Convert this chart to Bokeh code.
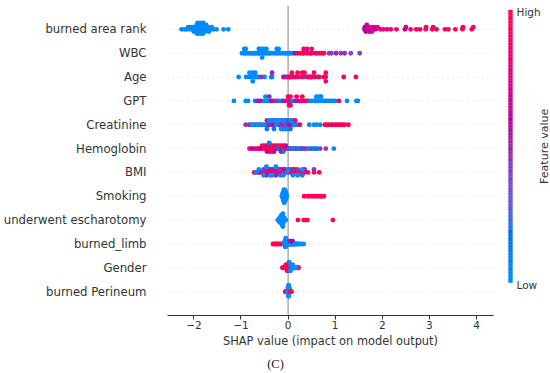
import numpy as np
from bokeh.plotting import figure
from bokeh.models import Range1d, FixedTicker, Span, ColumnDataSource
from bokeh.layouts import column, row
from bokeh.embed import file_html
from bokeh.resources import INLINE
from bokeh.core.properties import value

# ---------------- data ----------------
features = ["burned area rank", "WBC", "Age", "GPT", "Creatinine", "Hemoglobin",
            "BMI", "Smoking", "underwent escharotomy", "burned_limb", "Gender",
            "burned Perineum"]  # top to bottom
x_ticks = [-2, -1, 0, 1, 2, 3, 4]
x_tick_labels = ["\u22122", "\u22121", "0", "1", "2", "3", "4"]
colorbar_labels = ["Low", "High"]
x_title = "SHAP value (impact on model output)"
cbar_title = "Feature value"
caption = "(C)"

# (SHAP value, normalised feature value: 0 = low, 1 = high)
burned_area_rank = [
    (-2.26, 0), (-2.2, 0), (-2.15, 0), (-2.12, 0.05), (-2.08, 0), (-2.06, 0), (-2.03, 0),
    (-2.01, 0.05), (-2.0, 0), (-1.98, 0), (-1.97, 0), (-1.96, 0.05), (-1.94, 0), (-1.93, 0),
    (-1.92, 0), (-1.91, 0), (-1.9, 0.05), (-1.89, 0), (-1.88, 0), (-1.87, 0), (-1.86, 0),
    (-1.85, 0.05), (-1.84, 0), (-1.83, 0), (-1.82, 0), (-1.81, 0), (-1.8, 0.05), (-1.79, 0),
    (-1.77, 0), (-1.76, 0), (-1.74, 0), (-1.72, 0.05), (-1.7, 0), (-1.68, 0), (-1.65, 0),
    (-1.62, 0), (-1.58, 0), (-1.52, 0), (-1.37, 0), (-1.27, 0),
    (1.62, 0.55), (1.63, 0.6), (1.65, 0.6), (1.67, 0.65), (1.68, 0.7), (1.71, 0.7),
    (1.72, 0.6), (1.74, 0.6), (1.77, 0.75), (1.78, 0.65), (1.8, 0.8), (1.84, 0.7),
    (1.86, 0.6), (1.9, 0.85), (1.96, 0.8), (2.02, 0.9), (2.1, 0.75), (2.18, 0.9),
    (2.3, 0.95), (2.48, 0.6), (2.5, 0.65), (2.6, 0.9), (2.72, 0.95), (2.8, 0.9), (2.92, 1.0),
    (2.93, 0.95), (3.06, 0.95), (3.08, 1.0), (3.15, 0.95), (3.33, 1.0), (3.4, 0.95),
    (3.55, 1.0), (3.7, 1.0), (3.71, 0.95), (3.9, 1.0), (3.93, 0.95)]
wbc = [
    (-0.98, 0), (-0.93, 0), (-0.93, 0), (-0.9, 0), (-0.9, 0), (-0.86, 0), (-0.82, 0),
    (-0.79, 0), (-0.75, 0), (-0.72, 0), (-0.7, 0), (-0.66, 0), (-0.62, 0), (-0.62, 0),
    (-0.6, 0), (-0.6, 0), (-0.55, 0), (-0.55, 0), (-0.55, 0), (-0.5, 0), (-0.5, 0),
    (-0.46, 0), (-0.46, 0), (-0.41, 0), (-0.38, 0), (-0.33, 0), (-0.28, 0), (-0.24, 0),
    (-0.24, 0), (-0.2, 0), (-0.2, 0), (-0.15, 0), (-0.1, 0), (-0.06, 0), (-0.02, 0),
    (0.02, 0), (0.05, 0), (0.1, 0), (0.3, 0.05), (0.48, 0.1),
    (0.15, 0.6), (0.2, 0.9), (0.26, 1.0), (0.33, 0.95), (0.33, 0.9), (0.4, 1.0),
    (0.4, 0.7), (0.45, 0.95), (0.5, 1.0), (0.5, 0.9), (0.58, 0.6), (0.62, 0.95),
    (0.67, 0.9), (0.72, 1.0), (0.76, 0.9), (0.87, 0.45), (0.92, 0.4), (1.02, 0.5),
    (1.12, 0.4), (1.2, 0.45), (1.33, 0.4), (1.52, 0.4)]
age = [
    (-1.05, 0), (-0.89, 0), (-0.82, 0), (-0.82, 0), (-0.78, 0.05), (-0.75, 0), (-0.75, 0),
    (-0.75, 0), (-0.7, 0), (-0.7, 0.05), (-0.65, 0), (-0.63, 0), (-0.5, 0), (-0.36, 0),
    (-0.34, 0.05), (-0.08, 0), (-0.05, 0), (-0.02, 0), (0.03, 0.05), (0.06, 0), (0.1, 0),
    (0.25, 0), (0.35, 0.05), (0.45, 0),
    (-0.57, 0.45), (-0.34, 0.5), (-0.1, 0.55), (0.12, 0.5), (0.4, 0.5), (0.48, 0.45),
    (0.62, 0.5), (0.8, 0.45),
    (0.0, 0.9), (0.04, 1.0), (0.08, 0.95), (0.15, 1.0), (0.2, 0.9), (0.2, 1.0), (0.3, 0.95),
    (0.3, 1.0), (0.35, 0.9), (0.43, 1.0), (0.5, 0.95), (0.55, 1.0), (0.55, 0.9), (0.66, 1.0),
    (0.76, 0.95), (0.8, 1.0), (0.8, 0.9), (1.18, 1.0), (1.44, 1.0)]
gpt = [
    (-1.15, 0), (-0.9, 0), (-0.85, 0), (-0.7, 0), (-0.55, 0), (-0.5, 0), (-0.48, 0),
    (-0.45, 0), (-0.42, 0), (-0.38, 0), (-0.2, 0), (-0.15, 0), (0.05, 0), (0.1, 0),
    (0.42, 0), (0.45, 0), (0.5, 0), (0.55, 0), (0.58, 0), (0.6, 0), (0.6, 0), (0.63, 0),
    (0.66, 0), (0.66, 0), (0.7, 0), (0.7, 0), (0.73, 0), (0.76, 0), (0.8, 0), (0.85, 0),
    (0.9, 0), (0.95, 0), (1.0, 0), (1.25, 0), (1.45, 0), (1.48, 0),
    (-0.65, 0.5), (-0.6, 0.55), (-0.4, 0.5), (-0.35, 0.6), (-0.3, 0.5), (-0.25, 0.45),
    (-0.1, 0.55), (-0.05, 0.5), (0.0, 0.6), (0.15, 0.55), (0.2, 0.5), (0.25, 0.6),
    (0.3, 0.5), (0.35, 0.45),
    (-0.02, 0.9), (0.0, 1.0), (0.02, 0.95), (0.05, 0.9), (0.05, 1.0), (0.18, 0.95),
    (0.28, 0.9), (0.3, 1.0), (0.38, 0.95), (1.08, 1.0)]
creatinine = [
    (-0.9, 0.45), (-0.82, 0.5), (-0.7, 0.5), (-0.62, 0.55), (-0.55, 0.5), (-0.45, 0.55),
    (-0.45, 0.5), (-0.4, 0.55), (-0.35, 0.5), (-0.3, 0.6), (-0.3, 0.5), (-0.2, 0.55),
    (-0.15, 0.45), (-0.15, 0.5), (-0.1, 0.5), (-0.05, 0.4), (-0.05, 0.55), (0.0, 0.5),
    (0.05, 0.6), (0.1, 0.5), (0.92, 0.45),
    (-0.78, 0), (-0.75, 0), (-0.65, 0), (-0.6, 0), (-0.5, 0), (-0.45, 0.1), (-0.4, 0),
    (-0.35, 0), (-0.3, 0.1), (-0.25, 0), (-0.25, 0), (-0.2, 0), (-0.15, 0), (-0.1, 0),
    (-0.1, 0), (-0.05, 0), (0.0, 0.1), (0.0, 0), (0.05, 0), (0.05, 0.2), (0.1, 0),
    (0.12, 0), (0.15, 0), (0.2, 0), (0.45, 0), (0.55, 0), (0.6, 0), (0.68, 0),
    (0.15, 0.85), (0.25, 0.9), (0.78, 1.0), (0.82, 0.95), (0.87, 1.0), (0.95, 0.9),
    (1.0, 1.0), (1.05, 0.95), (1.1, 1.0), (1.15, 0.9), (1.2, 1.0), (1.28, 0.95)]
hemoglobin = [
    (-0.82, 1.0), (-0.78, 0.9), (-0.7, 1.0), (-0.66, 0.95), (-0.62, 1.0), (-0.58, 0.9),
    (-0.55, 1.0), (-0.55, 0.95), (-0.5, 1.0), (-0.5, 0.9), (-0.45, 1.0), (-0.45, 0.95),
    (-0.4, 1.0), (-0.4, 0.9), (-0.4, 1.0), (-0.35, 0.95), (-0.35, 1.0), (-0.35, 0.9),
    (-0.3, 1.0), (-0.3, 0.95), (-0.25, 1.0), (-0.25, 0.9), (-0.2, 1.0), (-0.2, 0.95),
    (-0.15, 1.0), (-0.15, 0.9), (-0.1, 1.0), (-0.1, 0.95), (-0.05, 1.0), (-0.04, 0.9),
    (0.0, 1.0), (0.05, 0.95), (0.12, 1.0), (0.15, 0.9), (0.25, 1.0), (0.35, 0.95),
    (-0.75, 0.6), (-0.6, 0.6), (-0.45, 0.65), (-0.3, 0.6), (-0.15, 0.55), (-0.05, 0.6),
    (0.08, 0.5), (0.18, 0.55), (0.28, 0.5), (0.4, 0.45), (0.5, 0.5), (0.58, 0.5),
    (0.68, 0.45), (0.8, 0.45),
    (-0.4, 0.1), (-0.22, 0.15), (-0.1, 0.1), (0.02, 0.1), (0.1, 0.05), (0.2, 0.1),
    (0.3, 0.15), (0.45, 0.1), (0.55, 0.1), (0.62, 0.1), (0.97, 0.05)]
bmi = [
    (-0.72, 1.0), (-0.65, 0.95), (-0.58, 1.0), (-0.52, 0.9), (-0.46, 1.0), (-0.46, 0.9),
    (-0.42, 1.0), (-0.38, 0.95), (-0.38, 0.8), (-0.34, 1.0), (-0.3, 0.9), (-0.26, 0.9),
    (-0.26, 1.0), (-0.2, 0.95), (-0.16, 0.85), (-0.16, 1.0), (-0.1, 0.9), (-0.06, 0.9),
    (-0.06, 1.0), (0.0, 0.95), (0.04, 0.85), (0.04, 1.0), (0.1, 0.9), (0.14, 0.9),
    (0.14, 1.0), (0.2, 0.95), (0.25, 1.0), (0.3, 0.9), (0.35, 1.0), (0.42, 0.95),
    (0.55, 1.0), (0.66, 1.0),
    (-0.62, 0.5), (-0.52, 0.45), (-0.46, 0.55), (-0.42, 0.5), (-0.34, 0.55), (-0.3, 0.5),
    (-0.26, 0.5), (-0.2, 0.45), (-0.1, 0.55), (0.1, 0.5), (0.2, 0.45), (0.35, 0.5),
    (0.55, 0.45),
    (-0.68, 0), (-0.62, 0), (-0.52, 0), (-0.46, 0), (-0.38, 0), (-0.34, 0), (-0.26, 0),
    (-0.16, 0.1), (-0.1, 0), (-0.02, 0), (0.0, 0), (0.1, 0), (0.2, 0), (0.3, 0),
    (0.3, 0.1)]
smoking = [
    (-0.13, 0), (-0.12, 0), (-0.12, 0), (-0.11, 0), (-0.11, 0), (-0.11, 0), (-0.1, 0),
    (-0.1, 0), (-0.1, 0), (-0.1, 0), (-0.1, 0), (-0.09, 0), (-0.09, 0), (-0.09, 0),
    (-0.09, 0), (-0.09, 0), (-0.09, 0), (-0.08, 0), (-0.08, 0), (-0.08, 0), (-0.08, 0),
    (-0.08, 0), (-0.08, 0), (-0.08, 0), (-0.07, 0), (-0.07, 0), (-0.07, 0), (-0.07, 0),
    (-0.07, 0), (-0.07, 0), (-0.06, 0), (-0.06, 0), (-0.06, 0), (-0.06, 0), (-0.06, 0),
    (-0.05, 0), (-0.05, 0), (-0.05, 0), (-0.05, 0), (-0.04, 0), (-0.04, 0), (-0.04, 0),
    (-0.03, 0),
    (0.34, 1.0), (0.42, 0.95), (0.48, 1.0), (0.53, 1.0), (0.58, 0.95), (0.64, 1.0),
    (0.69, 1.0), (0.71, 0.95), (0.76, 1.0)]
escharotomy = [
    (-0.22, 0), (-0.2, 0), (-0.19, 0), (-0.18, 0), (-0.18, 0), (-0.17, 0), (-0.17, 0),
    (-0.16, 0), (-0.16, 0), (-0.16, 0), (-0.15, 0), (-0.15, 0), (-0.15, 0), (-0.15, 0),
    (-0.14, 0), (-0.14, 0), (-0.14, 0), (-0.14, 0), (-0.13, 0), (-0.13, 0), (-0.13, 0),
    (-0.13, 0), (-0.13, 0), (-0.12, 0), (-0.12, 0), (-0.12, 0), (-0.12, 0), (-0.11, 0),
    (-0.11, 0), (-0.11, 0), (-0.1, 0), (-0.1, 0), (-0.1, 0), (-0.09, 0), (-0.09, 0),
    (-0.08, 0), (-0.08, 0), (-0.07, 0), (-0.06, 0), (-0.05, 0),
    (0.21, 1.0), (0.33, 1.0), (0.36, 1.0), (0.41, 1.0), (0.95, 1.0)]
burned_limb = [
    (-0.32, 1.0), (-0.29, 1.0), (-0.27, 1.0), (-0.24, 1.0), (-0.22, 1.0), (-0.19, 1.0),
    (-0.16, 1.0), (-0.13, 1.0), (-0.1, 1.0), (-0.02, 1.0), (0.02, 1.0), (0.06, 1.0),
    (0.1, 1.0), (0.13, 1.0),
    (-0.09, 0), (-0.07, 0), (-0.07, 0), (-0.06, 0), (-0.06, 0), (-0.06, 0), (-0.05, 0),
    (-0.05, 0), (-0.05, 0), (-0.05, 0), (-0.04, 0), (-0.04, 0), (-0.03, 0), (-0.01, 0),
    (0.0, 0), (0.01, 0), (0.02, 0), (0.03, 0), (0.04, 0), (0.05, 0), (0.06, 0), (0.07, 0),
    (0.08, 0), (0.09, 0), (0.1, 0), (0.11, 0), (0.12, 0), (0.14, 0), (0.15, 0), (0.17, 0),
    (0.19, 0), (0.21, 0), (0.24, 0), (0.27, 0), (0.33, 0),
    (0.04, 0.5), (0.08, 0.6)]
gender = [
    (-0.12, 1.0), (-0.1, 1.0), (-0.08, 1.0), (-0.07, 1.0), (-0.06, 1.0), (-0.05, 1.0),
    (-0.05, 1.0), (-0.04, 1.0), (-0.04, 1.0), (-0.03, 1.0), (-0.03, 1.0), (-0.02, 1.0),
    (-0.02, 1.0), (-0.02, 1.0), (-0.01, 1.0), (-0.01, 1.0), (-0.01, 1.0), (0.0, 1.0),
    (0.0, 1.0), (0.0, 1.0), (0.01, 1.0), (0.01, 1.0), (0.01, 1.0), (0.02, 1.0), (0.02, 1.0),
    (0.02, 1.0), (0.03, 1.0), (0.03, 1.0), (0.04, 1.0), (0.04, 1.0), (0.05, 1.0),
    (0.05, 1.0), (0.06, 1.0), (0.07, 1.0), (0.08, 1.0), (0.1, 1.0), (0.13, 1.0),
    (0.16, 1.0), (0.2, 1.0), (0.22, 1.0),
    (0.02, 0), (0.04, 0), (0.05, 0), (0.06, 0), (0.07, 0), (0.08, 0), (0.09, 0), (0.1, 0),
    (0.11, 0), (0.12, 0), (0.14, 0), (0.15, 0), (0.17, 0)]
burned_perineum = [
    (-0.06, 1.0), (-0.05, 1.0), (-0.04, 1.0), (-0.03, 1.0),
    (-0.01, 0), (-0.005, 0), (-0.005, 0), (0.0, 0), (0.0, 0), (0.0, 0), (0.0, 0),
    (0.005, 0), (0.005, 0), (0.005, 0), (0.005, 0), (0.005, 0), (0.01, 0), (0.01, 0),
    (0.01, 0), (0.01, 0), (0.01, 0), (0.01, 0), (0.015, 0), (0.015, 0), (0.015, 0),
    (0.015, 0), (0.015, 0), (0.02, 0), (0.02, 0), (0.02, 0), (0.02, 0), (0.025, 0),
    (0.025, 0), (0.03, 0), (0.03, 0), (0.035, 0),
    (0.04, 1.0), (0.05, 1.0), (0.06, 1.0), (0.07, 1.0)]

rows_top_to_bottom = [burned_area_rank, wbc, age, gpt, creatinine, hemoglobin, bmi,
                      smoking, escharotomy, burned_limb, gender, burned_perineum]

FONT = "DejaVu Sans"
TEXT = "#333333"


# ---------------- SHAP red_blue colormap (LCH interpolation) ----------------
def lch2rgb(L, C, h):
    a = C * np.cos(h)
    b = C * np.sin(h)
    fy = (L + 16.0) / 116.0
    fx = fy + a / 500.0
    fz = fy - b / 200.0

    def finv(t):
        return np.where(t ** 3 > 0.008856, t ** 3, (t - 16.0 / 116.0) / 7.787)

    xyz = np.array([0.95047 * finv(fx), finv(fy), 1.08883 * finv(fz)])
    M = np.array([[3.2406, -1.5372, -0.4986],
                  [-0.9689, 1.8758, 0.0415],
                  [0.0557, -0.2040, 1.0570]])
    rgb = M @ xyz
    rgb = np.where(rgb > 0.0031308,
                   1.055 * np.power(np.clip(rgb, 1e-12, None), 1 / 2.4) - 0.055,
                   12.92 * rgb)
    return np.clip(rgb, 0, 1)


def red_blue_palette(nsteps=100):
    blue_lch = [54.0, 70.0, 4.6588]
    red_lch = [54.0, 90.0, 0.35470565 + 2 * np.pi]
    l_mid = 40.0
    l_vals = list(np.linspace(blue_lch[0], l_mid, nsteps // 2)) + \
        list(np.linspace(l_mid, red_lch[0], nsteps // 2))
    c_vals = np.linspace(blue_lch[1], red_lch[1], nsteps)
    h_vals = np.linspace(blue_lch[2], red_lch[2], nsteps)
    out = []
    for L, C, h in zip(l_vals, c_vals, h_vals):
        r, g, b = lch2rgb(L, C, h)
        out.append("#%02x%02x%02x" % (int(round(r * 255)), int(round(g * 255)), int(round(b * 255))))
    return out


palette = red_blue_palette()


def color_of(f):
    return palette[int(round(f * (len(palette) - 1)))]


# ---------------- beeswarm layout (as in shap.summary_plot) ----------------
def swarm(shaps, row_height=0.4, nbins=100):
    shaps = np.asarray(shaps, dtype=float)
    quant = np.round(nbins * (shaps - shaps.min()) / (shaps.max() - shaps.min() + 1e-8))
    inds = np.argsort(quant, kind="stable")
    layer, last_bin = 0, -1
    ys = np.zeros(len(shaps))
    for ind in inds:
        if quant[ind] != last_bin:
            layer = 0
        ys[ind] = np.ceil(layer / 2) * ((layer % 2) * 2 - 1)
        layer += 1
        last_bin = quant[ind]
    ys *= 0.9 * (row_height / np.max(ys + 1))
    return ys


xs, ys, cs = [], [], []
n_feat = len(features)
for k, pts in enumerate(rows_top_to_bottom):
    pos = n_feat - 1 - k
    sh = [q[0] for q in pts]
    fv = [q[1] for q in pts]
    off = swarm(sh)
    xs += list(sh)
    ys += list(pos + off)
    cs += [color_of(f) for f in fv]

src = ColumnDataSource(dict(x=xs, y=ys, c=cs))

# ---------------- main plot ----------------
p = figure(width=498, height=350, x_range=Range1d(-2.56, 4.36), y_range=Range1d(-1, 12),
           output_backend="svg", toolbar_location=None, title=None,
           min_border_left=166, min_border_right=5, min_border_top=5, min_border_bottom=35)
p.outline_line_color = None
p.xgrid.visible = False
p.ygrid.visible = False
p.background_fill_color = "white"
p.border_fill_color = "white"

for i in range(n_feat):
    p.add_layout(Span(location=i, dimension="width", line_color="#cccccc",
                      line_width=0.8, line_dash="1 4", level="underlay"))
p.add_layout(Span(location=0, dimension="height", line_color="#999999",
                  line_width=1.2, level="underlay"))

p.scatter("x", "y", source=src, size=4.9, fill_color="c", line_color=None)

xa = p.xaxis[0]
xa.ticker = FixedTicker(ticks=x_ticks)
xa.major_label_overrides = {t: l for t, l in zip(x_ticks, x_tick_labels)}
xa.minor_tick_line_color = None
xa.major_tick_in = 0
xa.major_tick_out = 4
xa.axis_line_color = "#333333"
xa.major_tick_line_color = "#333333"
xa.major_label_text_font = FONT
xa.major_label_text_font_size = "10.5px"
xa.major_label_text_color = TEXT
xa.major_label_standoff = 1
xa.axis_label = x_title
xa.axis_label_text_font = FONT
xa.axis_label_text_font_size = "11.4px"
xa.axis_label_text_font_style = "normal"
xa.axis_label_text_color = TEXT
xa.axis_label_standoff = 2

ya = p.yaxis[0]
ya.ticker = FixedTicker(ticks=list(range(n_feat)))
ya.major_label_overrides = {i: features[n_feat - 1 - i] for i in range(n_feat)}
ya.axis_line_color = None
ya.major_tick_line_color = None
ya.minor_tick_line_color = None
ya.major_tick_out = 0
ya.major_tick_in = 0
ya.major_label_standoff = 21
ya.major_label_text_font = FONT
ya.major_label_text_font_size = "11.7px"
ya.major_label_text_color = TEXT

# ---------------- colour bar ----------------
cb = figure(width=52, height=350, x_range=Range1d(0, 52), y_range=Range1d(0, 350),
            output_backend="svg", toolbar_location=None, title=None,
            x_axis_type=None, y_axis_type=None, min_border=0)
cb.outline_line_color = None
cb.background_fill_color = "white"
cb.border_fill_color = "white"
levels = np.linspace(37, 345, len(palette) + 1)
cb.quad(left=10, right=14, bottom=levels[:-1], top=levels[1:],
        fill_color=palette, line_color=palette, line_width=0.3)
cb.text(x=[18, 18], y=[34, 343], text=colorbar_labels, text_baseline="middle",
        text_align="left", text_font=value(FONT), text_font_size="10.5px", text_color=TEXT)
cb.text(x=[46], y=[191], text=[cbar_title], angle=np.pi / 2, text_baseline="middle",
        text_align="center", text_font=value(FONT), text_font_size="11px", text_color=TEXT)

# ---------------- caption ----------------
cap = figure(width=550, height=23, x_range=Range1d(0, 550), y_range=Range1d(0, 23),
             output_backend="svg", toolbar_location=None, title=None,
             x_axis_type=None, y_axis_type=None, min_border=0)
cap.outline_line_color = None
cap.text(x=[275], y=[10], text=[caption], text_baseline="middle", text_align="center",
         text_font=value("Liberation Serif"), text_font_size="12.5px", text_color="#222222")

layout = column(row(p, cb), cap)
open("out.html", "w").write(file_html(layout, INLINE))
